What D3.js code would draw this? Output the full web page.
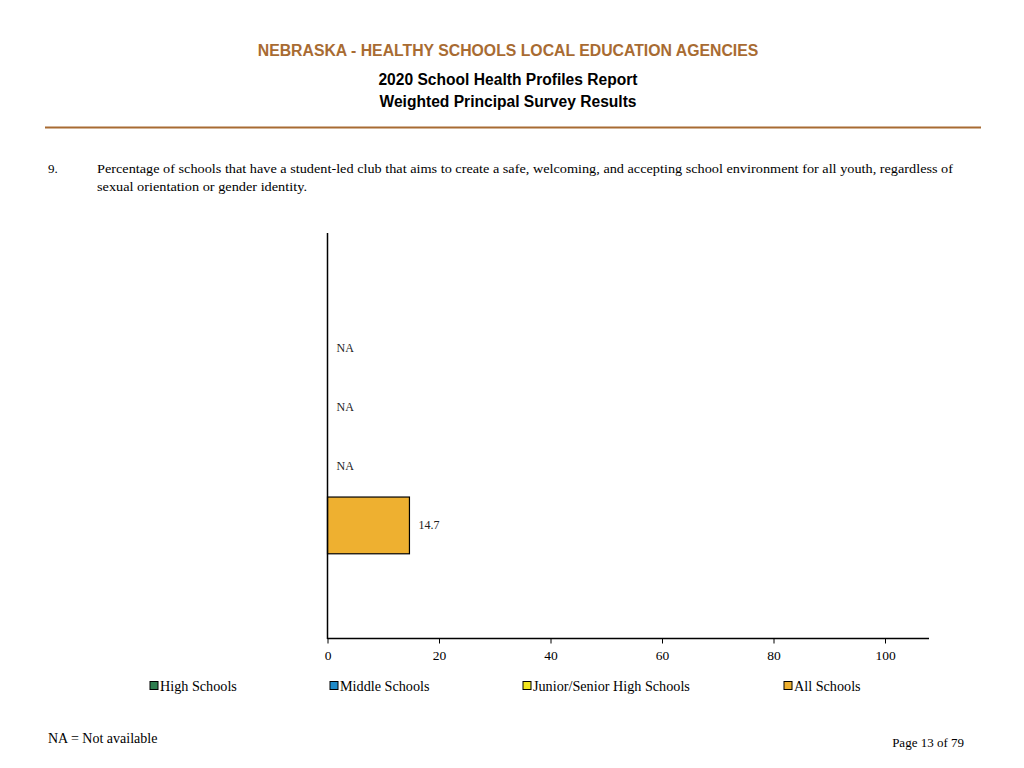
<!DOCTYPE html>
<html><head><meta charset="utf-8">
<script src="https://cdn.jsdelivr.net/npm/d3@7"></script>
<style>body{margin:0;background:#fff}</style>
</head><body>
<script>
const categories = ["High Schools", "Middle Schools", "Junior/Senior High Schools", "All Schools"];
const values = [null, null, null, 14.7];
const colors = ["#2E7D4F", "#1F8AC8", "#F2E51E", "#EEB030"];
const xTicks = [0, 20, 40, 60, 80, 100];

const svg = d3.select("body").append("svg").attr("width", 1024).attr("height", 768);
const serif = "'Liberation Serif','Times New Roman',serif";
const sans = "'Liberation Sans',Arial,sans-serif";

svg.append("text").attr("x", 508).attr("y", 55.5).attr("text-anchor", "middle")
  .attr("font-family", sans).attr("font-weight", "bold").attr("font-size", 15.8).attr("fill", "#A86B32")
  .text("NEBRASKA - HEALTHY SCHOOLS LOCAL EDUCATION AGENCIES");
svg.append("text").attr("x", 508).attr("y", 84.5).attr("text-anchor", "middle")
  .attr("font-family", sans).attr("font-weight", "bold").attr("font-size", 15.6).attr("fill", "#000")
  .text("2020 School Health Profiles Report");
svg.append("text").attr("x", 508).attr("y", 106.5).attr("text-anchor", "middle")
  .attr("font-family", sans).attr("font-weight", "bold").attr("font-size", 15.6).attr("fill", "#000")
  .text("Weighted Principal Survey Results");
svg.append("line").attr("x1", 45).attr("x2", 981).attr("y1", 127.5).attr("y2", 127.5)
  .attr("stroke", "#A86B32").attr("stroke-width", 2);

svg.append("text").attr("x", 48).attr("y", 173).attr("font-family", serif).attr("font-size", 13).text("9.");
svg.append("text").attr("x", 97).attr("y", 173).attr("font-family", serif).attr("font-size", 13)
  .attr("textLength", 856).attr("lengthAdjust", "spacingAndGlyphs")
  .text("Percentage of schools that have a student-led club that aims to create a safe, welcoming, and accepting school environment for all youth, regardless of");
svg.append("text").attr("x", 97).attr("y", 191).attr("font-family", serif).attr("font-size", 13)
  .attr("textLength", 210).attr("lengthAdjust", "spacingAndGlyphs")
  .text("sexual orientation or gender identity.");

const x = d3.scaleLinear().domain([0, 100]).range([327.5, 885]);
const y = d3.scaleBand().domain(categories).range([234, 639.5]).paddingInner(0.04).paddingOuter(1.45);

const g = svg.append("g");
g.selectAll("rect.bar").data(categories.map((c, i) => ({c, v: values[i], col: colors[i]})).filter(d => d.v != null))
  .enter().append("rect").attr("class", "bar")
  .attr("x", x(0)).attr("y", d => y(d.c)).attr("width", d => x(d.v) - x(0)).attr("height", y.bandwidth())
  .attr("fill", d => d.col).attr("stroke", "#000").attr("stroke-width", 1.2);

g.selectAll("text.lbl").data(categories.map((c, i) => ({c, v: values[i]})))
  .enter().append("text").attr("class", "lbl")
  .attr("x", d => d.v == null ? x(0) + 9 : x(d.v) + 9)
  .attr("y", d => y(d.c) + y.bandwidth() / 2 + 4)
  .attr("font-family", serif).attr("font-size", 12).attr("fill", "#222")
  .text(d => d.v == null ? "NA" : d.v.toFixed(1));

// axes
const xAxis = d3.axisBottom(x).tickValues(xTicks).tickSize(5).tickSizeOuter(0).tickPadding(7);
const ax = svg.append("g").attr("transform", "translate(0,638.5)").call(xAxis);
ax.select(".domain").remove();
ax.append("line").attr("x1", x(0)).attr("x2", 929).attr("stroke", "#000").attr("stroke-width", 1.5);
ax.selectAll(".tick line").attr("stroke", "#000");
ax.selectAll(".tick text").attr("font-family", serif).attr("font-size", 13.5).attr("fill", "#000");

svg.append("line").attr("x1", x(0)).attr("x2", x(0)).attr("y1", 233).attr("y2", 639)
  .attr("stroke", "#000").attr("stroke-width", 1.5);

// legend
const legX = [150, 330, 523, 784];
const leg = svg.append("g");
categories.forEach((c, i) => {
  leg.append("rect").attr("x", legX[i]).attr("y", 681.5).attr("width", 8).attr("height", 8)
    .attr("fill", colors[i]).attr("stroke", "#000").attr("stroke-width", 1);
  leg.append("text").attr("x", legX[i] + 10).attr("y", 690.5).attr("font-family", serif).attr("font-size", 14.2)
    .text(c);
});

svg.append("text").attr("x", 48).attr("y", 743).attr("font-family", serif).attr("font-size", 14).text("NA = Not available");
svg.append("text").attr("x", 964).attr("y", 747).attr("text-anchor", "end").attr("font-family", serif).attr("font-size", 13).text("Page 13 of 79");
</script>
</body></html>
